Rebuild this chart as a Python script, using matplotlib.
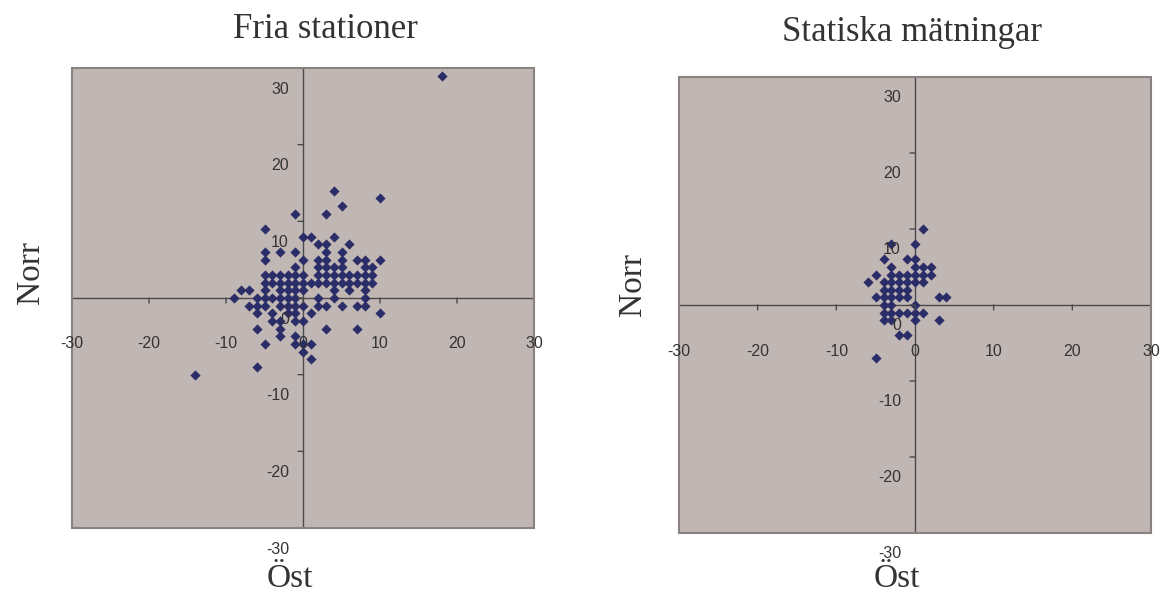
import numpy as np
import matplotlib
matplotlib.use('Agg')
import matplotlib.pyplot as plt
from matplotlib.patches import Rectangle

# Fria stationer: (ost, norr) grouped by norr row
fria_rows = {
    29: [18],
    14: [4],
    13: [10],
    12: [5],
    11: [-1, 3],
    9: [-5],
    8: [0, 1, 4],
    7: [2, 3, 6],
    6: [-5, -3, -1, 3, 5],
    5: [-5, 0, 2, 3, 5, 7, 8, 10],
    4: [-1, 2, 3, 4, 5, 8, 9],
    3: [-5, -4, -3, -2, -1, 0, 2, 3, 4, 5, 6, 7, 8, 9],
    2: [-5, -4, -3, -2, -1, 0, 1, 2, 3, 4, 5, 6, 7, 8, 9],
    1: [-8, -7, -5, -3, -2, -1, 0, 4, 6, 8],
    0: [-9, -6, -5, -4, -3, -2, -1, 2, 4, 8],
    -1: [-7, -6, -5, -3, -2, -1, 0, 2, 3, 5, 7, 8],
    -2: [-6, -4, -2, -1, 1, 10],
    -3: [-4, -3, -1, 0],
    -4: [-6, -3, 3, 7],
    -5: [-3, -1],
    -6: [-5, -1, 0, 1],
    -7: [0],
    -8: [1],
    -9: [-6],
    -10: [-14],
}

# Statiska matningar
stat_rows = {
    10: [1],
    8: [-3, 0],
    6: [-4, -1, 0],
    5: [-3, 0, 1, 2],
    4: [-5, -3, -2, -1, 0, 1, 2],
    3: [-6, -4, -3, -2, -1, 0, 1],
    2: [-4, -3, -2, -1],
    1: [-5, -4, -3, -2, -1, 3, 4],
    0: [-4, -3, 0],
    -1: [-4, -3, -2, -1, 0, 1],
    -2: [-4, -3, 0, 3],
    -4: [-2, -1],
    -7: [-5],
}

ticks = [-30, -20, -10, 0, 10, 20, 30]
titles = ['Fria stationer', 'Statiska mätningar']


def to_xy(rows):
    xs, ys = [], []
    for yv, xl in rows.items():
        for xv in xl:
            xs.append(xv)
            ys.append(yv)
    return np.array(xs), np.array(ys)


bg = '#c0b7b4'
mk = '#2b2d68'
txt = '#333333'

fig = plt.figure(figsize=(11.69, 5.92), dpi=100)

def make_panel(rect, rows):
    ax = fig.add_axes(rect)
    ax.set_facecolor(bg)
    x, y = to_xy(rows)
    ax.scatter(x, y, marker='D', s=27, color=mk, zorder=3, linewidths=0)
    ax.set_xlim(-30, 30)
    ax.set_ylim(-30, 30)
    for s in ax.spines.values():
        s.set_visible(False)
    ax.add_patch(Rectangle((0, 0), 1, 1, transform=ax.transAxes, fill=False,
                           edgecolor='#8a8282', lw=1.5, clip_on=False, zorder=4))
    ax.axhline(0, color='#4a4a4a', lw=1, zorder=2)
    ax.axvline(0, color='#4a4a4a', lw=1, zorder=2)
    ax.set_xticks([])
    ax.set_yticks([])
    for t in ticks:
        # small tick marks on the zero axes
        ax.annotate('', xy=(t, 0), xytext=(0, -5), textcoords='offset pixels',
                    arrowprops=dict(arrowstyle='-', color='#4a4a4a', lw=1,
                                    shrinkA=0, shrinkB=0))
        ax.annotate('', xy=(0, t), xytext=(-5, 0), textcoords='offset pixels',
                    arrowprops=dict(arrowstyle='-', color='#4a4a4a', lw=1,
                                    shrinkA=0, shrinkB=0))
        ax.annotate(str(t), xy=(t, 0), xytext=(0, -46), textcoords='offset pixels',
                    ha='center', va='center', fontsize=11.5, color=txt,
                    family='Liberation Sans', annotation_clip=False, zorder=5)
        ax.annotate(str(t), xy=(0, t), xytext=(-14, -21), textcoords='offset pixels',
                    ha='right', va='center', fontsize=11.5, color=txt,
                    family='Liberation Sans', annotation_clip=False, zorder=5)
    return ax

ax1 = make_panel([72/1169, 64/592, 462/1169, 460/592], fria_rows)
ax2 = make_panel([679/1169, 59/592, 472/1169, 456/592], stat_rows)

serif = 'Liberation Serif'
fig.text(325/1169, 1 - 38/592, titles[0], ha='center', va='baseline',
         fontsize=25, family=serif, color=txt)
fig.text(912/1169, 1 - 41/592, titles[1], ha='center', va='baseline',
         fontsize=25, family=serif, color=txt)
fig.text(31/1169, 1 - 272/592, 'Norr', rotation=90, ha='center', va='center',
         fontsize=24, family=serif, color=txt)
fig.text(633/1169, 1 - 285/592, 'Norr', rotation=90, ha='center', va='center',
         fontsize=24, family=serif, color=txt)
fig.text(290/1169, 1 - 587/592, 'Öst', ha='center', va='baseline',
         fontsize=24, family=serif, color=txt)
fig.text(897/1169, 1 - 587/592, 'Öst', ha='center', va='baseline',
         fontsize=24, family=serif, color=txt)

fig.savefig('out.png', dpi=100)
